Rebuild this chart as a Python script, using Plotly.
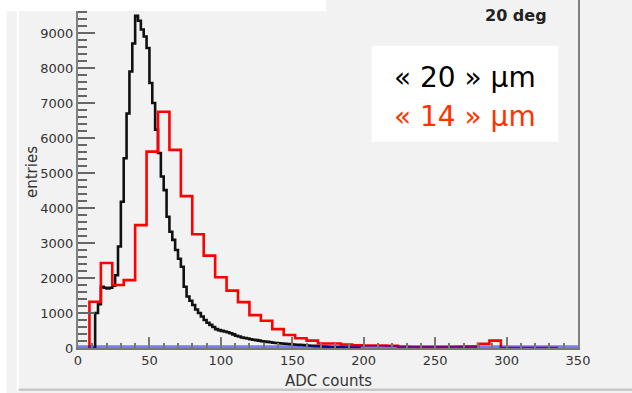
import plotly.graph_objects as go

# ---------------- data ----------------
black_start = 10      # ADC, lower edge of first bin
black_width = 2       # ADC per bin
black_counts = [
    0, 1000, 1250, 1750, 1720, 1700, 1720, 1780, 2080, 2900,
    4180, 5420, 6700, 7900, 8700, 9490, 9350, 9100, 8900, 8570,
    7570, 7000, 6240, 5570, 4900, 4510, 3750, 3320, 3090, 2800,
    2550, 2320, 1750, 1470, 1350, 1230, 1100, 1000, 900, 800,
    720, 660, 600, 540, 510, 490, 470, 450, 420, 390,
    350, 330, 300, 285, 270, 250, 235, 225, 210, 195,
    185, 175, 165, 150, 145, 135, 130, 120, 115, 110,
    100, 95, 90, 85, 80, 70, 65, 60, 55, 50,
    45, 40, 35, 30, 28, 25, 22, 20, 15, 12,
    10, 8, 5, 0,
]

red_start = 8
red_width = 8
red_counts = [
    1320, 2430, 1800, 1940, 3510, 5610, 6750, 5660, 4340, 3250,
    2640, 2020, 1640, 1310, 940, 780, 540, 370, 280, 210,
    130, 130, 100, 75, 70, 70, 65, 35, 30, 25,
    25, 30, 35, 40, 120, 210, 0, 0, 0, 0,
    0,
]

blue_x = [0, 350]
blue_y = [0, 0]

x_ticks = [0, 50, 100, 150, 200, 250, 300, 350]
y_ticks = [0, 1000, 2000, 3000, 4000, 5000, 6000, 7000, 8000, 9000]

legend_lines = ["« 20 » µm", "« 14 » µm"]
angle_label = "20 deg"
x_title = "ADC counts"
y_title = "entries"


def step_xy(start, width, counts):
    xs = [start]
    ys = [0]
    for i, c in enumerate(counts):
        xs.append(start + i * width)
        ys.append(c)
    xs.append(start + len(counts) * width)
    ys.append(0)
    return xs, ys


bx, by = step_xy(black_start, black_width, black_counts)
rx, ry = step_xy(red_start, red_width, red_counts)

# ---------------- layout geometry ----------------
W, H = 632, 393
ML, MR, MT, MB = 78, 54, 0, 45
PW, PH = W - ML - MR, H - MT - MB


def px(xp):
    return (xp - ML) / PW


def py(yp):
    return (H - MB - yp) / PH


fig = go.Figure()
fig.add_trace(go.Scatter(x=bx, y=by, mode="lines", line=dict(color="#111111", width=2.6, shape="hv"),
                         hoverinfo="skip", showlegend=False))
fig.add_trace(go.Scatter(x=rx, y=ry, mode="lines", line=dict(color="#ff0000", width=2.6, shape="hv"),
                         hoverinfo="skip", showlegend=False))
fig.add_trace(go.Scatter(x=blue_x, y=blue_y, mode="lines", line=dict(color="rgba(0,0,255,0.5)", width=5.5),
                         hoverinfo="skip", showlegend=False, cliponaxis=False))

tickfont = dict(family="DejaVu Sans", size=13, color="#333333")

fig.update_layout(
    width=W, height=H,
    margin=dict(l=ML, r=MR, t=MT, b=MB, pad=0),
    paper_bgcolor="#f2f2f2",
    plot_bgcolor="#f2f2f2",
    xaxis=dict(
        range=[0, 350], tickvals=x_ticks, ticks="inside", ticklen=11, tickwidth=1.5,
        tickcolor="#777777", showgrid=False, zeroline=False, showline=True,
        linecolor="#777777", linewidth=1.5, tickfont=tickfont,
        minor=dict(dtick=10, ticks="inside", ticklen=5, tickcolor="#777777", tickwidth=1.5, showgrid=False),
    ),
    yaxis=dict(
        range=[0, 9943], tickvals=y_ticks, ticks="inside", ticklen=17, tickwidth=2,
        tickcolor="#666666", showgrid=False, zeroline=False, showline=True, mirror=True,
        linecolor="#808080", linewidth=2, tickfont=tickfont,
        minor=dict(dtick=200, ticks="inside", ticklen=9, tickcolor="#666666", tickwidth=2, showgrid=False),
    ),
    shapes=[
        # left white strips
        dict(type="rect", xref="paper", yref="paper", x0=px(0), x1=px(6.7), y0=py(H), y1=py(0),
             fillcolor="white", line_width=0, layer="above"),
        dict(type="rect", xref="paper", yref="paper", x0=px(16.7), x1=px(19), y0=py(389), y1=py(0),
             fillcolor="white", line_width=0, layer="above"),
        # bottom gray border
        dict(type="rect", xref="paper", yref="paper", x0=px(19), x1=px(W), y0=py(391), y1=py(388.5),
             fillcolor="#c8c8c8", line_width=0, layer="above"),
        # top-left white box
        dict(type="rect", xref="paper", yref="paper", x0=px(0), x1=px(326), y0=py(11), y1=py(0),
             fillcolor="white", line_width=0, layer="above"),
        # legend box
        dict(type="rect", xref="paper", yref="paper", x0=px(371.7), x1=px(558.3), y0=py(141.7), y1=py(45.7),
             fillcolor="white", line_width=0, layer="above"),
    ],
    annotations=[
        dict(text=legend_lines[0], xref="paper", yref="paper", x=px(465), y=py(77), xanchor="center",
             yanchor="middle", showarrow=False, font=dict(family="DejaVu Sans", size=28, color="#000000")),
        dict(text=legend_lines[1], xref="paper", yref="paper", x=px(465), y=py(116), xanchor="center",
             yanchor="middle", showarrow=False, font=dict(family="DejaVu Sans", size=28, color="#ff3300")),
        dict(text="<b>" + angle_label + "</b>", xref="paper", yref="paper", x=px(516), y=py(15),
             xanchor="center", yanchor="middle", showarrow=False,
             font=dict(family="DejaVu Sans", size=16, color="#222222")),
        dict(text=x_title, xref="paper", yref="paper", x=px(328), y=py(381), xanchor="center",
             yanchor="middle", showarrow=False, font=dict(family="DejaVu Sans", size=15, color="#333333")),
        dict(text=y_title, xref="paper", yref="paper", x=px(32), y=py(172), xanchor="center",
             yanchor="middle", textangle=-90, showarrow=False,
             font=dict(family="DejaVu Sans", size=15, color="#333333")),
    ],
)

fig.write_html("out.html", config={"displayModeBar": False},
               post_script="document.body.style.margin='0';document.body.style.overflow='hidden';")
